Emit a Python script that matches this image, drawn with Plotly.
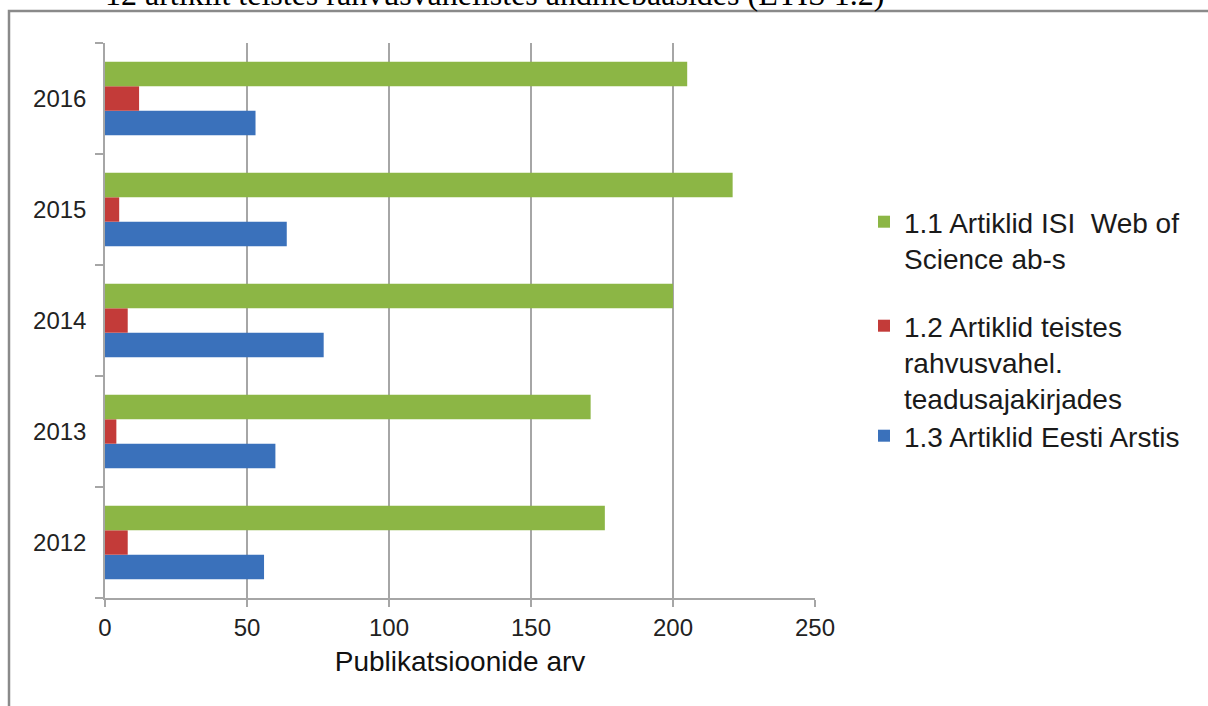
import plotly.graph_objects as go

years = ["2012", "2013", "2014", "2015", "2016"]
isi_wos = [176, 171, 200, 221, 205]
teised = [8, 4, 8, 5, 12]
eesti_arst = [56, 60, 77, 64, 53]

name_isi = "1.1 Artiklid ISI  Web of<br>Science ab-s"
name_teised = "1.2 Artiklid teistes<br>rahvusvahel.<br>teadusajakirjades"
name_ea = "1.3 Artiklid Eesti Arstis"

x_ticks = [0, 50, 100, 150, 200, 250]

col_green = "#8cb645"
col_red = "#c33b39"
col_blue = "#3a71bb"

W, H = 1208, 706
ML, MR, MT, MB = 105, 393, 43, 108
PW, PH = W - ML - MR, H - MT - MB


def px(xp):
    return (xp - ML) / PW


def py(yp):
    return (H - MB - yp) / PH


fig = go.Figure()
fig.add_trace(go.Bar(y=years, x=eesti_arst, orientation="h", name=name_ea,
                     marker=dict(color=col_blue, line=dict(width=0)), legend="legend3"))
fig.add_trace(go.Bar(y=years, x=teised, orientation="h", name=name_teised,
                     marker=dict(color=col_red, line=dict(width=0)), legend="legend2"))
fig.add_trace(go.Bar(y=years, x=isi_wos, orientation="h", name=name_isi,
                     marker=dict(color=col_green, line=dict(width=0)), legend="legend"))

legend_font = dict(family="Liberation Sans, Arial, sans-serif", size=28, color="#1a1a1a")
common_leg = dict(xanchor="left", yanchor="top", bgcolor="rgba(0,0,0,0)",
                  font=legend_font, valign="top", itemwidth=30)

fig.update_layout(
    width=W, height=H,
    margin=dict(l=ML, r=MR, t=MT, b=MB),
    paper_bgcolor="white", plot_bgcolor="white",
    barmode="group", bargap=0.34, bargroupgap=0,
    showlegend=True,
    legend=dict(x=px(864), y=py(197), **common_leg),
    legend2=dict(x=px(864), y=py(301), **common_leg),
    legend3=dict(x=px(864), y=py(411), **common_leg),
    font=dict(family="Liberation Sans, Arial, sans-serif", color="#222222"),
    xaxis=dict(
        range=[0, 250], tickvals=x_ticks, ticktext=[str(v) for v in x_ticks],
        showgrid=True, gridcolor="#a6a6a6", gridwidth=1.5,
        showline=True, linecolor="#a6a6a6", linewidth=1.5,
        ticks="outside", ticklen=7, tickcolor="#a6a6a6", tickwidth=1.5,
        zeroline=False,
        tickfont=dict(size=24, color="#222222"),
        title=dict(text="Publikatsioonide arv", font=dict(size=28, color="#111111"), standoff=12),
    ),
    yaxis=dict(
        type="category", categoryorder="array", categoryarray=years,
        range=[-0.5, 4.5],
        showgrid=False, zeroline=False,
        showline=True, linecolor="#a6a6a6", linewidth=1.5,
        ticks="outside", tickson="boundaries", ticklen=8, tickcolor="#a6a6a6", tickwidth=1.5,
        tickfont=dict(size=24, color="#222222"),
        ticklabelstandoff=12,
    ),
    shapes=[
        dict(type="rect", xref="paper", yref="paper",
             x0=px(9), x1=px(1230), y0=py(11), y1=py(740),
             line=dict(color="#8a8a8a", width=2.5), fillcolor="rgba(0,0,0,0)", layer="below"),
    ],
    annotations=[
        dict(text="12 artiklit teistes rahvusvahelistes andmebaasides (ETIS 1.2)",
             xref="paper", yref="paper", x=px(103), y=py(14),
             xanchor="left", yanchor="bottom", showarrow=False,
             font=dict(family="Liberation Serif, Times New Roman, serif", size=32, color="#000000")),
    ],
)

fig.write_html("out.html")
